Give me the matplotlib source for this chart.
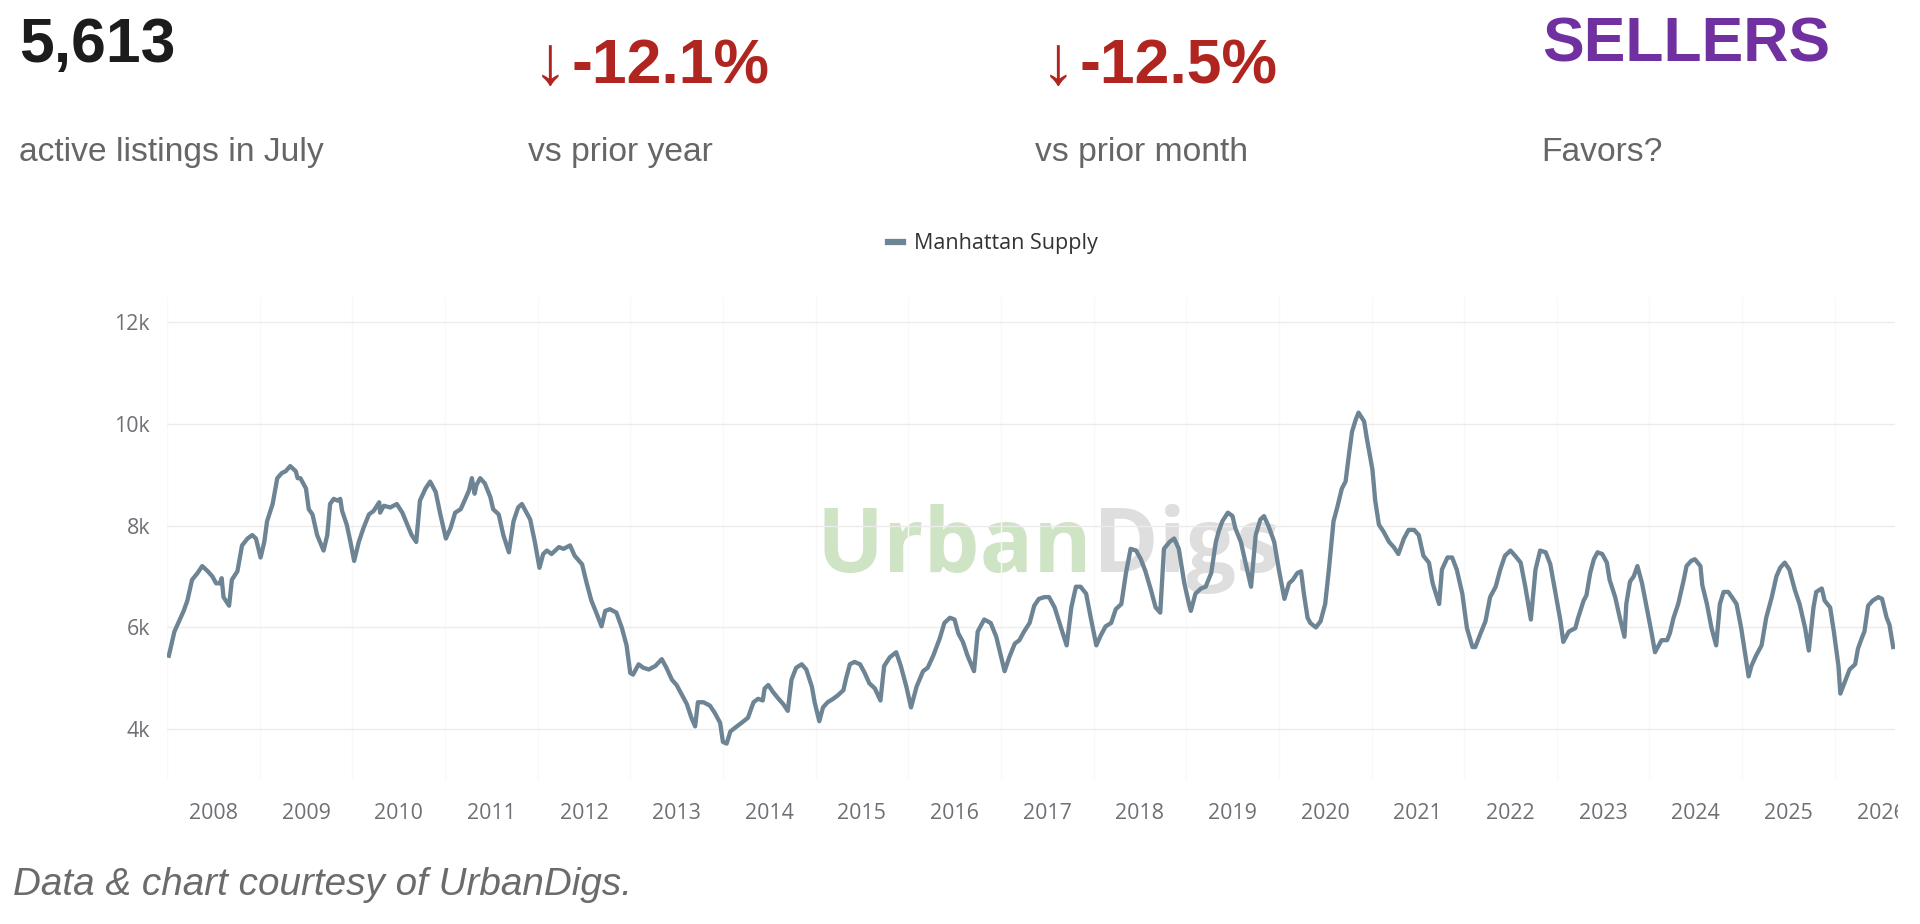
import matplotlib
matplotlib.use('Agg')
import matplotlib.pyplot as plt
from matplotlib.transforms import Bbox, TransformedBbox

# time position on the chart's axis (decimal years) and active listings
t_years = [
    2007.52, 2007.58, 2007.63, 2007.68, 2007.72, 2007.77, 2007.83, 2007.88, 2007.94, 2007.99,
    2008.03, 2008.07, 2008.09, 2008.11, 2008.17, 2008.20, 2008.26, 2008.31, 2008.37, 2008.42,
    2008.46, 2008.51, 2008.55, 2008.58, 2008.64, 2008.69, 2008.74, 2008.78, 2008.83, 2008.89,
    2008.91, 2008.94, 2009.00, 2009.03, 2009.07, 2009.12, 2009.19, 2009.23, 2009.26, 2009.30,
    2009.34, 2009.37, 2009.39, 2009.44, 2009.48, 2009.52, 2009.57, 2009.62, 2009.68, 2009.73,
    2009.79, 2009.80, 2009.84, 2009.91, 2009.98, 2010.04, 2010.11, 2010.14, 2010.19, 2010.23,
    2010.29, 2010.34, 2010.40, 2010.45, 2010.51, 2010.56, 2010.61, 2010.67, 2010.72, 2010.76,
    2010.79, 2010.82, 2010.84, 2010.88, 2010.93, 2010.99, 2011.02, 2011.08, 2011.13, 2011.19,
    2011.24, 2011.29, 2011.33, 2011.37, 2011.42, 2011.47, 2011.52, 2011.56, 2011.60, 2011.65,
    2011.73, 2011.78, 2011.85, 2011.90, 2011.98, 2012.03, 2012.08, 2012.14, 2012.19, 2012.23,
    2012.28, 2012.35, 2012.41, 2012.46, 2012.50, 2012.53, 2012.59, 2012.64, 2012.70, 2012.77,
    2012.84, 2012.89, 2012.95, 2013.00, 2013.05, 2013.11, 2013.16, 2013.20, 2013.23, 2013.29,
    2013.36, 2013.41, 2013.47, 2013.50, 2013.54, 2013.58, 2013.65, 2013.70, 2013.77, 2013.83,
    2013.88, 2013.93, 2013.95, 2013.99, 2014.04, 2014.10, 2014.15, 2014.20, 2014.24, 2014.29,
    2014.35, 2014.40, 2014.46, 2014.49, 2014.54, 2014.58, 2014.63, 2014.69, 2014.74, 2014.80,
    2014.83, 2014.87, 2014.92, 2014.98, 2015.03, 2015.08, 2015.14, 2015.20, 2015.24, 2015.30,
    2015.37, 2015.42, 2015.48, 2015.53, 2015.59, 2015.66, 2015.71, 2015.77, 2015.84, 2015.89,
    2015.95, 2016.00, 2016.04, 2016.09, 2016.14, 2016.21, 2016.25, 2016.32, 2016.39, 2016.45,
    2016.50, 2016.54, 2016.59, 2016.65, 2016.70, 2016.75, 2016.81, 2016.86, 2016.91, 2016.97,
    2017.02, 2017.08, 2017.15, 2017.21, 2017.26, 2017.31, 2017.36, 2017.42, 2017.47, 2017.53,
    2017.58, 2017.63, 2017.69, 2017.74, 2017.80, 2017.85, 2017.90, 2017.96, 2018.01, 2018.06,
    2018.12, 2018.17, 2018.22, 2018.26, 2018.32, 2018.37, 2018.42, 2018.48, 2018.53, 2018.55,
    2018.60, 2018.66, 2018.71, 2018.77, 2018.82, 2018.85, 2018.89, 2018.95, 2019.00, 2019.03,
    2019.09, 2019.14, 2019.20, 2019.25, 2019.30, 2019.34, 2019.39, 2019.45, 2019.50, 2019.56,
    2019.61, 2019.65, 2019.70, 2019.74, 2019.77, 2019.81, 2019.84, 2019.90, 2019.95, 2020.00,
    2020.04, 2020.09, 2020.13, 2020.18, 2020.22, 2020.26, 2020.29, 2020.33, 2020.36, 2020.42,
    2020.45, 2020.51, 2020.54, 2020.58, 2020.63, 2020.69, 2020.74, 2020.79, 2020.85, 2020.90,
    2020.96, 2021.01, 2021.06, 2021.12, 2021.16, 2021.23, 2021.26, 2021.32, 2021.37, 2021.42,
    2021.48, 2021.53, 2021.59, 2021.62, 2021.67, 2021.73, 2021.78, 2021.84, 2021.89, 2021.94,
    2022.00, 2022.05, 2022.11, 2022.16, 2022.22, 2022.27, 2022.32, 2022.38, 2022.43, 2022.48,
    2022.54, 2022.57, 2022.63, 2022.70, 2022.73, 2022.79, 2022.82, 2022.86, 2022.90, 2022.94,
    2022.99, 2023.04, 2023.07, 2023.13, 2023.18, 2023.23, 2023.25, 2023.29, 2023.33, 2023.37,
    2023.42, 2023.47, 2023.52, 2023.56, 2023.60, 2023.63, 2023.69, 2023.72, 2023.76, 2023.81,
    2023.87, 2023.90, 2023.95, 2023.99, 2024.05, 2024.07, 2024.12, 2024.17, 2024.22, 2024.26,
    2024.30, 2024.35, 2024.39, 2024.44, 2024.49, 2024.53, 2024.57, 2024.60, 2024.65, 2024.71,
    2024.76, 2024.82, 2024.87, 2024.91, 2024.96, 2025.01, 2025.07, 2025.12, 2025.18, 2025.22,
    2025.27, 2025.30, 2025.36, 2025.39, 2025.45, 2025.49, 2025.54, 2025.56, 2025.61, 2025.66,
    2025.72, 2025.75, 2025.79, 2025.82, 2025.86, 2025.91, 2025.97, 2026.01, 2026.06, 2026.09,
    2026.13,
]
listings = [
    5443, 5917, 6120, 6323, 6527, 6933, 7068, 7204, 7102, 7000,
    6865, 6865, 6966, 6594, 6425, 6933, 7102, 7610, 7746, 7814,
    7746, 7373, 7678, 8085, 8424, 8931, 9033, 9067, 9169, 9067,
    8931, 8931, 8728, 8322, 8220, 7814, 7509, 7814, 8424, 8525,
    8491, 8525, 8288, 8017, 7678, 7306, 7678, 7949, 8220, 8288,
    8457, 8254, 8389, 8356, 8424, 8254, 7949, 7814, 7678, 8491,
    8728, 8864, 8660, 8220, 7746, 7949, 8254, 8322, 8525, 8694,
    8931, 8627, 8796, 8931, 8830, 8559, 8322, 8220, 7814, 7475,
    8085, 8356, 8424, 8288, 8119, 7678, 7170, 7441, 7509, 7441,
    7577, 7543, 7610, 7407, 7238, 6865, 6527, 6256, 6019, 6323,
    6357, 6290, 5985, 5646, 5104, 5071, 5274, 5206, 5172, 5240,
    5375, 5206, 4969, 4867, 4698, 4494, 4223, 4054, 4528, 4528,
    4461, 4325, 4122, 3749, 3715, 3953, 4054, 4122, 4223, 4528,
    4596, 4562, 4799, 4867, 4731, 4596, 4494, 4359, 4969, 5206,
    5274, 5172, 4833, 4528, 4155, 4426, 4528, 4596, 4664, 4765,
    5003, 5274, 5321, 5274, 5104, 4901, 4799, 4562, 5240, 5409,
    5511, 5240, 4833, 4426, 4833, 5138, 5206, 5443, 5782, 6086,
    6188, 6154, 5883, 5714, 5443, 5138, 5917, 6154, 6086, 5815,
    5443, 5138, 5409, 5680, 5748, 5917, 6086, 6425, 6560, 6594,
    6594, 6391, 5985, 5646, 6391, 6798, 6798, 6662, 6188, 5646,
    5849, 6019, 6086, 6357, 6459, 7068, 7543, 7509, 7339, 7102,
    6730, 6391, 6289, 7543, 7678, 7746, 7543, 6865, 6459, 6323,
    6662, 6764, 6798, 7068, 7678, 7881, 8085, 8254, 8186, 7949,
    7678, 7272, 6798, 7814, 8119, 8186, 7983, 7678, 7136, 6560,
    6865, 6933, 7068, 7102, 6662, 6188, 6086, 5998, 6120, 6459,
    7136, 8085, 8356, 8728, 8864, 9440, 9846, 10083, 10219, 10049,
    9710, 9101, 8491, 8017, 7881, 7678, 7577, 7441, 7746, 7915,
    7915, 7814, 7407, 7272, 6865, 6459, 7136, 7373, 7373, 7136,
    6662, 5985, 5612, 5612, 5849, 6120, 6594, 6798, 7136, 7407,
    7509, 7407, 7272, 6798, 6154, 7136, 7509, 7475, 7238, 6730,
    6120, 5714, 5917, 5985, 6188, 6527, 6629, 7068, 7339, 7475,
    7441, 7272, 6933, 6594, 6188, 5815, 6459, 6899, 7000, 7204,
    6865, 6391, 5917, 5511, 5646, 5748, 5748, 5883, 6188, 6459,
    6933, 7204, 7306, 7339, 7204, 6831, 6459, 5985, 5646, 6459,
    6696, 6696, 6594, 6459, 5985, 5511, 5036, 5240, 5443, 5646,
    6188, 6594, 7000, 7170, 7272, 7136, 6730, 6459, 5985, 5544,
    6391, 6696, 6764, 6527, 6391, 5917, 5240, 4698, 4935, 5172,
    5274, 5578, 5782, 5917, 6425, 6527, 6594, 6560, 6188, 6052,
    5613,
]

year_ticks = list(range(2008, 2027))
year_labels = [str(y) for y in year_ticks]
y_ticks = [4000, 6000, 8000, 10000, 12000]
y_labels = ['4k', '6k', '8k', '10k', '12k']

headline_values = ['5,613', '-12.1%', '-12.5%', 'SELLERS']
headline_captions = ['active listings in July', 'vs prior year', 'vs prior month', 'Favors?']
series_name = 'Manhattan Supply'

LINE_COLOR = '#6d8495'
RED = '#b0251f'
PURPLE = '#7030a0'
CAPTION_GRAY = '#666666'
HEAD_FONT = ['Liberation Sans', 'DejaVu Sans']

W, H = 1920, 924
fig = plt.figure(figsize=(W / 100, H / 100), dpi=100)
fig.patch.set_facecolor('white')

ax = fig.add_axes([167 / W, (H - 780) / H, 1728 / W, 483.4 / H])
ax.set_facecolor('none')
ax.plot(t_years, listings, color=LINE_COLOR, lw=3.1, solid_joinstyle='round',
        zorder=3, label=series_name)

ax.set_xlim(2007.50, 2026.15)
ax.set_ylim(3000, 12500)
ax.set_xticks(year_ticks, year_labels)
ax.set_xticks([y - 0.5 for y in year_ticks], minor=True)
ax.set_yticks(y_ticks, y_labels)
ax.grid(axis='y', which='major', color='#ececec', lw=1, zorder=0)
ax.grid(axis='x', which='minor', color='#f9f9f9', lw=1, zorder=0)
ax.tick_params(which='both', length=0)
ax.tick_params(axis='both', labelsize=15.4, labelcolor='#6f6f75')
ax.tick_params(axis='y', pad=12.2)
ax.tick_params(axis='x', pad=16.5)
for lbl in ax.get_xticklabels() + ax.get_yticklabels():
    lbl.set_family('Open Sans')
for s in ax.spines.values():
    s.set_visible(False)

# legend above the plot
leg = ax.legend(loc='center', bbox_to_anchor=(993 / W, 1 - 244 / H),
                bbox_transform=fig.transFigure, frameon=False,
                handlelength=0.7, handletextpad=0.5,
                prop={'family': 'Open Sans', 'size': 15.5}, labelcolor='#333333')
leg.get_lines()[0].set_linewidth(4.5)

# watermark
wm1 = ax.text(817 / W, 1 - 572 / H, 'Urban', transform=fig.transFigure,
              fontsize=64, fontweight='bold', family='Open Sans',
              color='#cfe4c5', va='baseline', ha='left', zorder=1)
fig.canvas.draw()
bb = wm1.get_window_extent()
ax.text(bb.x1 / W, 1 - 572 / H, 'Digs', transform=fig.transFigure,
        fontsize=64, fontweight='bold', family='Open Sans',
        color='#dedede', va='baseline', ha='left', zorder=1)

# headline row
fig.text(19 / W, 1 - 62 / H, headline_values[0], fontsize=45, fontweight='bold',
         color='#1c1c1c', family=HEAD_FONT, va='baseline')
fig.text(533 / W, 1 - 84 / H, '\u2193', fontsize=50, color=RED, family=HEAD_FONT, va='baseline')
fig.text(572 / W, 1 - 84 / H, headline_values[1], fontsize=45, fontweight='bold',
         color=RED, family=HEAD_FONT, va='baseline')
fig.text(1041 / W, 1 - 84 / H, '\u2193', fontsize=50, color=RED, family=HEAD_FONT, va='baseline')
fig.text(1079 / W, 1 - 84 / H, headline_values[2], fontsize=45, fontweight='bold',
         color=RED, family=HEAD_FONT, va='baseline')
fig.text(1542 / W, 1 - 61 / H, headline_values[3], fontsize=45, fontweight='bold',
         color=PURPLE, family=HEAD_FONT, va='baseline')

cap_x = [19, 528, 1035, 1541]
for x, cap in zip(cap_x, headline_captions):
    fig.text(x / W, 1 - 161 / H, cap, fontsize=24.2, color=CAPTION_GRAY,
             family=HEAD_FONT, va='baseline')

fig.text(13 / W, 1 - 895 / H, 'Data & chart courtesy of UrbanDigs.', fontsize=27.8,
         style='italic', color='#6b6b6b', family=HEAD_FONT, va='baseline')

# the last year label is cut by the chart edge in the original
fig.canvas.draw()
last = ax.get_xticklabels()[-1]
last.set_clip_box(TransformedBbox(Bbox([[0, 0], [1898 / W, 1]]), fig.transFigure))
last.set_clip_on(True)

fig.savefig('out.png', dpi=100, facecolor='white')
plt.close(fig)
